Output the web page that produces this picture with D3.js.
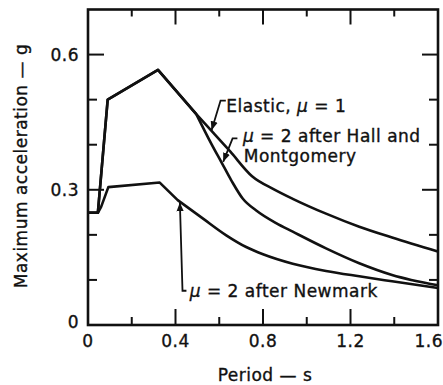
<!DOCTYPE html>
<html lang="en">
<head>
<meta charset="UTF-8">
<title>Maximum acceleration vs period</title>
<script src="https://d3js.org/d3.v7.min.js"></script>
<style>
  body { margin: 0; background: #fff; }
  text { font-family: "DejaVu Sans", sans-serif; font-size: 17px; letter-spacing: 0.5px; fill: #111; stroke: #111; stroke-width: 0.35px; }
</style>
</head>
<body>
<script>
// values (period in s, acceleration in g)
const elasticT = [0, 0.045, 0.09, 0.32, 0.495, 0.57, 0.65, 0.75, 0.85, 0.936, 1.088, 1.24, 1.39, 1.6];
const elasticA = [0.249, 0.249, 0.50, 0.566, 0.468, 0.428, 0.385, 0.330, 0.301, 0.280, 0.247, 0.218, 0.194, 0.163];

const hallT = [0, 0.045, 0.09, 0.32, 0.495, 0.564, 0.609, 0.655, 0.708, 0.769, 0.86, 0.936, 1.088, 1.24, 1.39, 1.6];
const hallA = [0.249, 0.249, 0.50, 0.566, 0.468, 0.402, 0.362, 0.321, 0.280, 0.254, 0.226, 0.207, 0.170, 0.137, 0.111, 0.088];

const newmarkT = [0, 0.045, 0.06, 0.093, 0.328, 0.41, 0.526, 0.632, 0.723, 0.80, 0.936, 1.088, 1.24, 1.39, 1.6];
const newmarkA = [0.249, 0.249, 0.262, 0.306, 0.316, 0.277, 0.236, 0.199, 0.173, 0.157, 0.136, 0.120, 0.108, 0.097, 0.082];

// index of the peak: straight segments before it, smooth decay after
const peakIdx = [3, 3, 4];

const xTicks = [0, 0.4, 0.8, 1.2, 1.6];
const xMinor = [0.2, 0.6, 1.0, 1.4];
const yTicks = [0, 0.3, 0.6];
const yMinor = [0.1, 0.2, 0.4, 0.5];

const W = 443, H = 385;
const x = d3.scaleLinear().domain([0, 1.6]).range([88, 438]);
const y = d3.scaleLinear().domain([0, 0.7]).range([325, 9.5]);

const svg = d3.select("body").append("svg")
    .attr("width", W)
    .attr("height", H);

// frame
svg.append("rect")
    .attr("x", x(0)).attr("y", y(0.7))
    .attr("width", x(1.6) - x(0)).attr("height", y(0) - y(0.7))
    .attr("fill", "none").attr("stroke", "#111").attr("stroke-width", 2.6);

// ticks, all pointing inward
const tk = svg.append("g").attr("stroke", "#111").attr("stroke-width", 2);
const xT = xTicks.slice(1, -1).map(v => ({v, len: 16})).concat(xMinor.map(v => ({v, len: 8})));
xT.forEach(d => {
  tk.append("line").attr("x1", x(d.v)).attr("x2", x(d.v)).attr("y1", y(0)).attr("y2", y(0) - d.len);
  tk.append("line").attr("x1", x(d.v)).attr("x2", x(d.v)).attr("y1", y(0.7)).attr("y2", y(0.7) + d.len - 1);
});
const yT = yTicks.slice(1).map(v => ({v, len: 16})).concat(yMinor.map(v => ({v, len: 9})));
yT.forEach(d => {
  tk.append("line").attr("y1", y(d.v)).attr("y2", y(d.v)).attr("x1", x(0)).attr("x2", x(0) + d.len);
  tk.append("line").attr("y1", y(d.v)).attr("y2", y(d.v)).attr("x1", x(1.6)).attr("x2", x(1.6) - d.len);
});

// tick labels
svg.selectAll(".xl").data(xTicks).enter().append("text")
    .attr("x", d => d === 1.6 ? W : x(d))
    .attr("y", 347)
    .attr("text-anchor", d => d === 1.6 ? "end" : "middle")
    .text(d => d === 0 ? "0" : d.toFixed(1));

svg.selectAll(".yl").data(yTicks).enter().append("text")
    .attr("x", 79)
    .attr("y", d => y(d))
    .attr("dy", d => d === 0 ? "0.2em" : "0.35em")
    .attr("text-anchor", "end")
    .text(d => d === 0 ? "0" : d.toFixed(1));

// axis titles
svg.append("text")
    .attr("x", (x(0) + x(1.6)) / 2 + 2).attr("y", 381)
    .attr("text-anchor", "middle")
    .text("Period \u2014 s");

svg.append("text")
    .attr("transform", "translate(27,166) rotate(-90)")
    .attr("text-anchor", "middle")
    .text("Maximum acceleration \u2014 g");

// curves: linear rise, smooth (monotone) fall
const line = d3.line().x(d => x(d[0])).y(d => y(d[1]));
const smooth = d3.line().x(d => x(d[0])).y(d => y(d[1])).curve(d3.curveMonotoneX);
const series = [
  d3.zip(elasticT, elasticA),
  d3.zip(hallT, hallA),
  d3.zip(newmarkT, newmarkA)
];
series.forEach((s, i) => {
  const k = peakIdx[i];
  const tail = s.slice(k);
  // first tail segment stays straight up to the next reading
  const path = line(s.slice(0, k + 2)) + smooth(tail.slice(1)).replace(/^M/, "L");
  svg.append("path")
      .attr("d", path)
      .attr("fill", "none")
      .attr("stroke", "#111")
      .attr("stroke-width", 2.6)
      .attr("stroke-linejoin", "round");
});

// leaders with arrow tips
svg.append("defs").append("marker")
    .attr("id", "tip").attr("viewBox", "0 0 10 10")
    .attr("refX", 10).attr("refY", 5)
    .attr("markerWidth", 5).attr("markerHeight", 5)
    .attr("orient", "auto")
  .append("path").attr("d", "M0,1 L10,5 L0,9 Z").attr("fill", "#111");

const leaders = [
  [[0.630, 0.498], [0.606, 0.498], [0.565, 0.432]],
  [[0.683, 0.414], [0.661, 0.414], [0.618, 0.362]],
  [[0.450, 0.076], [0.432, 0.076], [0.420, 0.272]]
];
svg.selectAll(".leader").data(leaders).enter().append("path")
    .attr("d", line)
    .attr("fill", "none")
    .attr("stroke", "#111")
    .attr("stroke-width", 1.8)
    .attr("marker-end", "url(#tip)");

// annotation texts, mu in italics
const notes = [
  {t: 0.632, a: 0.472, parts: [["Elastic, ", false], ["\u03bc", true], [" = 1", false]]},
  {t: 0.708, a: 0.407, parts: [["\u03bc", true], [" = 2 after Hall and", false]]},
  {t: 0.712, a: 0.361, parts: [["Montgomery", false]]},
  {t: 0.465, a: 0.063, parts: [["\u03bc", true], [" = 2 after Newmark", false]]}
];
notes.forEach(n => {
  const t = svg.append("text").attr("x", x(n.t)).attr("y", y(n.a));
  n.parts.forEach(p => {
    const s = t.append("tspan").text(p[0]);
    if (p[1]) s.attr("font-style", "italic");
  });
});
</script>
</body>
</html>
